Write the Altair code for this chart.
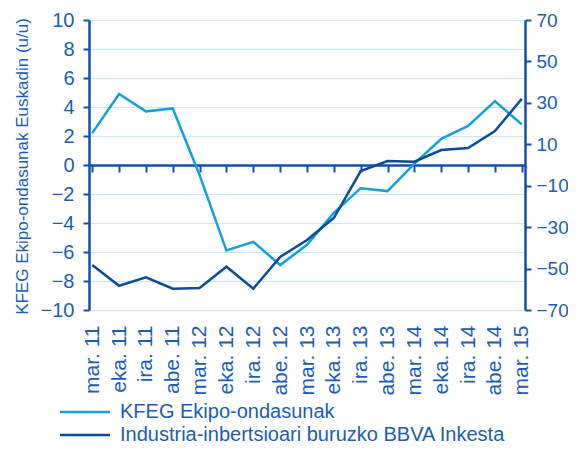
import altair as alt
import pandas as pd

months = ["mar. 11", "eka. 11", "ira. 11", "abe. 11", "mar. 12", "eka. 12", "ira. 12",
          "abe. 12", "mar. 13", "eka. 13", "ira. 13", "abe. 13", "mar. 14", "eka. 14",
          "ira. 14", "abe. 14", "mar. 15"]
kfeg = [2.2, 4.9, 3.7, 3.9, -0.7, -5.9, -5.3, -6.9, -5.5, -3.3, -1.6, -1.8, 0.1, 1.8, 2.7, 4.4, 2.8]
bbva = [-48.3, -58.3, -54.2, -59.7, -59.4, -49.1, -59.7, -44.4, -36.2, -25.6, -2.9, 1.9, 1.6,
        7.2, 8.2, 16.4, 31.9]
series_names = ["KFEG Ekipo-ondasunak", "Industria-inbertsioari buruzko BBVA Inkesta"]
left_ticks = list(range(-10, 11, 2))
right_ticks = list(range(-70, 71, 20))
left_title = "KFEG Ekipo-ondasunak Euskadin (u/u)"

LIGHT = "#139fe0"
DARK = "#0c4a9e"
TEXT = "#1b5cb8"
AXIS = "#0f4fae"
GRID = "#c8e8f7"
FONT = "Liberation Sans"

df1 = pd.DataFrame({"month": months, "value": kfeg, "series": series_names[0]})
df2 = pd.DataFrame({"month": months, "value": bbva, "series": series_names[1]})

xscale = alt.Scale(type="point", padding=0.12)
color = alt.Color(
    "series:N",
    scale=alt.Scale(domain=series_names, range=[LIGHT, DARK]),
    legend=alt.Legend(
        title=None, orient="none", legendX=-14, legendY=382, direction="vertical",
        symbolType="M-5,0H5", symbolSize=100, symbolStrokeWidth=2.5,
        labelFontSize=20, labelColor=TEXT, labelFont=FONT, labelOffset=25,
        rowPadding=3, padding=0, labelLimit=600,
    ),
)

light = alt.Chart(df1).mark_line(strokeWidth=2.5).encode(
    x=alt.X("month:N", sort=months, scale=xscale,
            axis=alt.Axis(title=None, labelAngle=-90, domain=False, ticks=False,
                          labelPadding=15, labelFontSize=21, labelColor=TEXT,
                          labelFont=FONT, grid=False)),
    y=alt.Y("value:Q", scale=alt.Scale(domain=[-10, 10], nice=False, zero=False),
            axis=alt.Axis(values=left_ticks, title=left_title, titleFontSize=17,
                          titleFont=FONT, titleColor=TEXT, titleFontWeight="normal",
                          titleAngle=-90, titleX=-67, titleY=146, titleAlign="center",
                          titleBaseline="middle",
                          labelFontSize=20, labelColor=TEXT, labelFont=FONT,
                          labelPadding=9, tickSize=6, tickWidth=2, tickColor=AXIS,
                          domainColor=AXIS, domainWidth=2.5, grid=True,
                          gridColor=GRID, gridWidth=1.2)),
    color=color,
)

dark = alt.Chart(df2).mark_line(strokeWidth=2.5).encode(
    x=alt.X("month:N", sort=months, scale=xscale,
            axis=alt.Axis(title=None, orient="bottom", offset=-145, labels=False,
                          domainColor=AXIS, domainWidth=2.5, tickColor=AXIS,
                          tickSize=7, tickWidth=2, grid=False)),
    y=alt.Y("value:Q", scale=alt.Scale(domain=[-70, 70], nice=False, zero=False),
            axis=alt.Axis(values=right_ticks, orient="right", title=None,
                          labelFontSize=19, labelColor=TEXT, labelFont=FONT,
                          labelPadding=5, tickSize=6, tickWidth=2, tickColor=AXIS,
                          domainColor=AXIS, domainWidth=2.5, grid=False)),
    color=color,
)

chart = (
    alt.layer(light, dark)
    .resolve_scale(y="independent")
    .resolve_axis(x="independent")
    .properties(
        width=436, height=290,
        autosize=alt.AutoSizeParams(type="none"),
        padding={"left": 81, "top": 12, "right": 43, "bottom": 137},
    )
    .configure_view(stroke=None)
    .configure(font=FONT)
)

chart.save("out.html", embed_options={"renderer": "svg", "actions": False})
